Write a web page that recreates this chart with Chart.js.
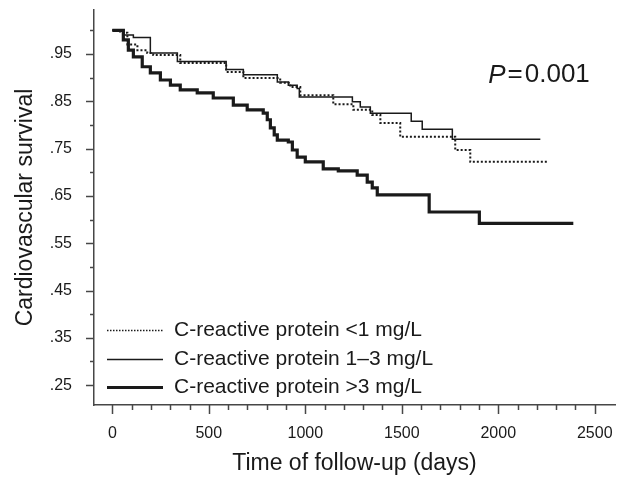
<!DOCTYPE html>
<html>
<head>
<meta charset="utf-8">
<script src="https://cdn.jsdelivr.net/npm/chart.js@4.4.1/dist/chart.umd.min.js"></script>
<style>
  html, body { margin: 0; padding: 0; background: #fff; }
  #wrap { width: 621px; height: 477px; }
</style>
</head>
<body>
<div id="wrap"><canvas id="km"></canvas></div>
<script>
const groupLabels = ["C-reactive protein <1 mg/L", "C-reactive protein 1\u20133 mg/L", "C-reactive protein >3 mg/L"];

// follow-up days at each drop, and survival after the drop
const timeLow = [0, 40, 78, 130, 181, 212, 352, 590, 679, 870, 922, 974, 1145, 1249, 1347, 1389, 1492, 1777, 1855, 2254];
const survLow = [1.0, 0.995, 0.970, 0.958, 0.952, 0.948, 0.931, 0.912, 0.899, 0.889, 0.880, 0.863, 0.844, 0.832, 0.821, 0.804, 0.775, 0.747, 0.722, 0.722];

const timeMid = [0, 60, 109, 197, 337, 590, 679, 855, 912, 958, 969, 1244, 1285, 1337, 1549, 1606, 1762, 2218];
const survMid = [1.0, 0.990, 0.985, 0.952, 0.934, 0.917, 0.906, 0.891, 0.884, 0.877, 0.859, 0.849, 0.838, 0.825, 0.808, 0.791, 0.770, 0.770];

const timeHigh = [0, 57, 83, 109, 155, 197, 249, 301, 352, 440, 523, 627, 699, 782, 803, 819, 839, 855, 912, 933, 958, 1000, 1093, 1171, 1269, 1321, 1347, 1373, 1642, 1902, 2389];
const survHigh = [1.0, 0.980, 0.958, 0.944, 0.923, 0.910, 0.895, 0.884, 0.874, 0.868, 0.857, 0.842, 0.832, 0.825, 0.811, 0.794, 0.779, 0.768, 0.764, 0.747, 0.732, 0.722, 0.707, 0.703, 0.694, 0.679, 0.667, 0.652, 0.616, 0.592, 0.592];

const xMajor = [0, 500, 1000, 1500, 2000, 2500];
const xMinor = [100, 200, 300, 400, 600, 700, 800, 900, 1100, 1200, 1300, 1400, 1600, 1700, 1800, 1900, 2100, 2200, 2300, 2400];
const yMajor = [0.25, 0.35, 0.45, 0.55, 0.65, 0.75, 0.85, 0.95];
const yMinor = [0.30, 0.40, 0.50, 0.60, 0.70, 0.80, 0.90, 1.00];

const pText = "0.001";

const font = "'Liberation Sans', Arial, Helvetica, sans-serif";
const ink = "#1a1a1a";
const axisColor = "#474747";

const toPoints = (t, s) => t.map((d, i) => ({ x: d, y: s[i] }));

// legend line styles (thinner dots than on the curve)
const legendWidths = [1.5, 1.5, 3];
const legendDash = [[1.5, 1.5], [], []];

const decorations = {
  id: 'decorations',
  afterDraw(chart) {
    const { ctx, chartArea, scales: { x, y } } = chart;
    ctx.save();
    ctx.strokeStyle = axisColor;
    ctx.lineWidth = 1.5;
    ctx.beginPath();
    yMajor.forEach(v => {
      const py = Math.round(y.getPixelForValue(v)) + 0.5;
      ctx.moveTo(chartArea.left - 8, py);
      ctx.lineTo(chartArea.left, py);
    });
    yMinor.forEach(v => {
      const py = Math.round(y.getPixelForValue(v)) + 0.5;
      ctx.moveTo(chartArea.left - 4, py);
      ctx.lineTo(chartArea.left, py);
    });
    xMajor.forEach(v => {
      const px = Math.round(x.getPixelForValue(v)) + 0.5;
      ctx.moveTo(px, chartArea.bottom);
      ctx.lineTo(px, chartArea.bottom + 9);
    });
    xMinor.forEach(v => {
      const px = Math.round(x.getPixelForValue(v)) + 0.5;
      ctx.moveTo(px, chartArea.bottom);
      ctx.lineTo(px, chartArea.bottom + 5);
    });
    ctx.stroke();

    // legend, bottom left inside the plot
    ctx.font = "21px " + font;
    ctx.textBaseline = 'middle';
    ctx.textAlign = 'left';
    ctx.fillStyle = ink;
    chart.data.datasets.forEach((ds, i) => {
      const ly = Math.round(chartArea.bottom - 75 + i * 28.5) + 0.5;
      ctx.beginPath();
      ctx.strokeStyle = ds.borderColor;
      ctx.lineWidth = legendWidths[i];
      ctx.setLineDash(legendDash[i]);
      ctx.moveTo(chartArea.left + 13, ly);
      ctx.lineTo(chartArea.left + 69, ly);
      ctx.stroke();
      ctx.setLineDash([]);
      ctx.fillText(ds.label, chartArea.left + 80, ly);
    });

    // P value
    const px = x.getPixelForValue(1948);
    const py = y.getPixelForValue(0.905);
    ctx.font = "italic 26px " + font;
    ctx.fillText("P", px, py);
    let cx = px + ctx.measureText("P").width + 2;
    ctx.font = "26px " + font;
    ctx.fillText("=", cx, py);
    cx += ctx.measureText("=").width + 2;
    ctx.fillText(pText, cx, py);
    ctx.restore();
  }
};

new Chart(document.getElementById('km'), {
  type: 'line',
  data: {
    datasets: [{
      label: groupLabels[0],
      data: toPoints(timeLow, survLow),
      borderColor: ink,
      borderWidth: 2,
      borderDash: [2, 2],
      stepped: 'before',
      pointRadius: 0
    }, {
      label: groupLabels[1],
      data: toPoints(timeMid, survMid),
      borderColor: ink,
      borderWidth: 1.5,
      stepped: 'before',
      pointRadius: 0
    }, {
      label: groupLabels[2],
      data: toPoints(timeHigh, survHigh),
      borderColor: ink,
      borderWidth: 3.2,
      stepped: 'before',
      pointRadius: 0
    }]
  },
  options: {
    responsive: true,
    maintainAspectRatio: false,
    animation: false,
    layout: { padding: { top: 10, right: 6, left: 0, bottom: 0 } },
    scales: {
      x: {
        type: 'linear',
        min: -95,
        max: 2605,
        afterBuildTicks: (scale) => { scale.ticks = xMajor.map(v => ({ value: v })); },
        afterFit: (scale) => {
          scale.height = 72;
          scale.paddingLeft = 0;
          scale.paddingRight = 0;
        },
        ticks: {
          padding: 19,
          color: ink,
          font: { family: font, size: 16 },
          maxRotation: 0,
          callback: (v) => String(v)
        },
        grid: { display: false, drawTicks: false },
        border: { display: true, color: axisColor, width: 1.5 },
        title: {
          display: true,
          text: 'Time of follow-up (days)',
          color: ink,
          font: { family: font, size: 23 },
          padding: { top: 0, bottom: 0 }
        }
      },
      y: {
        type: 'linear',
        min: 0.208,
        max: 1.043,
        afterBuildTicks: (scale) => { scale.ticks = yMajor.map(v => ({ value: v })); },
        afterFit: (scale) => {
          scale.width = 94;
          scale.paddingTop = 0;
          scale.paddingBottom = 0;
        },
        ticks: {
          padding: 22,
          color: ink,
          font: { family: font, size: 16 },
          callback: (v) => v.toFixed(2).replace(/^0/, '')
        },
        grid: { display: false, drawTicks: false },
        border: { display: true, color: axisColor, width: 1.5 },
        title: {
          display: true,
          text: 'Cardiovascular survival',
          color: ink,
          font: { family: font, size: 23 },
          padding: { top: 12, bottom: 0 }
        }
      }
    },
    plugins: {
      tooltip: { enabled: false },
      legend: { display: false }
    }
  },
  plugins: [decorations]
});
</script>
</body>
</html>
